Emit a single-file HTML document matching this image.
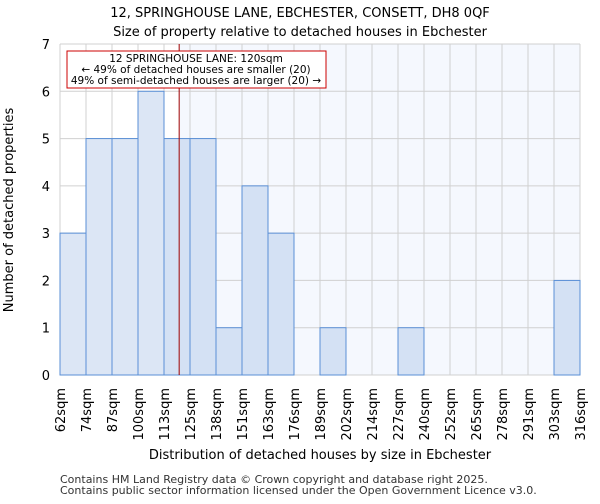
<!DOCTYPE html>
<html><head><meta charset="utf-8"><style>
body{margin:0;background:#fff;font-family:"DejaVu Sans","Liberation Sans",sans-serif}
</style></head><body>
<svg id="chart" width="600" height="500" xmlns="http://www.w3.org/2000/svg" font-family="DejaVu Sans, Liberation Sans, sans-serif">
<text x="300" y="17" text-anchor="middle" font-size="13">12, SPRINGHOUSE LANE, EBCHESTER, CONSETT, DH8 0QF</text>
<text x="300" y="36" text-anchor="middle" font-size="13">Size of property relative to detached houses in Ebchester</text>
<g id="plot"></g>
<text x="320" y="459" text-anchor="middle" font-size="13">Distribution of detached houses by size in Ebchester</text>
<text transform="translate(13,210) rotate(-90)" text-anchor="middle" font-size="13">Number of detached properties</text>
<text x="60" y="483" font-size="11" fill="#333">Contains HM Land Registry data © Crown copyright and database right 2025.</text>
<text x="60" y="494" font-size="11" fill="#333">Contains public sector information licensed under the Open Government Licence v3.0.</text>
</svg>
<script>
const binLabels=["62sqm","74sqm","87sqm","100sqm","113sqm","125sqm","138sqm","151sqm","163sqm","176sqm","189sqm","202sqm","214sqm","227sqm","240sqm","252sqm","265sqm","278sqm","291sqm","303sqm","316sqm"];
const binEdges=[62,74,87,100,113,125,138,151,163,176,189,202,214,227,240,252,265,278,291,303,316];
const counts=[3,5,5,6,5,5,1,4,3,0,1,0,0,1,0,0,0,0,0,2];
const yTicks=[0,1,2,3,4,5,6,7];
const propertySize=120;
const ns="http://www.w3.org/2000/svg";
const X0=60,X1=580,Y0=375,Y1=44,YMAX=7;
const g=document.getElementById("plot");
const nb=counts.length,bw=(X1-X0)/nb;
function xi(i){return X0+i*bw;}
function xv(v){for(let i=0;i<nb;i++){if(v>=binEdges[i]&&v<=binEdges[i+1])return xi(i)+bw*(v-binEdges[i])/(binEdges[i+1]-binEdges[i]);}return X1;}
function y(v){return Y0-(Y0-Y1)*v/YMAX;}
function mk(t,a){const e=document.createElementNS(ns,t);for(const k in a)e.setAttribute(k,a[k]);g.appendChild(e);return e;}
const lx=xv(propertySize);
let bg=mk("rect",{x:lx,y:Y1,width:X1-lx,height:Y0-Y1,fill:"#f5f8fe"});


for(let i=0;i<=nb;i++){let l=mk("line",{x1:xi(i),x2:xi(i),y1:Y1,y2:Y0,stroke:"#d0d0d0","stroke-width":1});

}
yTicks.forEach(t=>{let l=mk("line",{x1:X0,x2:X1,y1:y(t),y2:y(t),stroke:"#d0d0d0","stroke-width":1});


let tx=mk("text",{x:X0-10,y:y(t)+5,"text-anchor":"end","font-size":"13"});tx.textContent=t;

});
counts.forEach((c,i)=>{if(c<=0)return;const x=xi(i);
let r=mk("rect",{x:x,y:y(c),width:bw,height:Y0-y(c),fill:(x+bw<=lx?"#dce6f5":"#d4e1f4"),stroke:"#5a8fd6","stroke-width":1});

});
binLabels.forEach((s,i)=>{let tx=mk("text",{transform:`translate(${xi(i)+5},388) rotate(-90)`,"text-anchor":"end","font-size":"13"});tx.textContent=s;

});
let pl=mk("line",{x1:lx,x2:lx,y1:Y1,y2:Y0,stroke:"#a00000","stroke-width":1});


let box=mk("rect",{x:67,y:51,width:259,height:37,fill:"#fff",stroke:"#cc0000","stroke-width":1});


["12 SPRINGHOUSE LANE: 120sqm","← 49% of detached houses are smaller (20)","49% of semi-detached houses are larger (20) →"].forEach((s,i)=>{let tx=mk("text",{x:196,y:62+i*11,"text-anchor":"middle","font-size":"10.5"});tx.textContent=s;

});
</script>
</body></html>
